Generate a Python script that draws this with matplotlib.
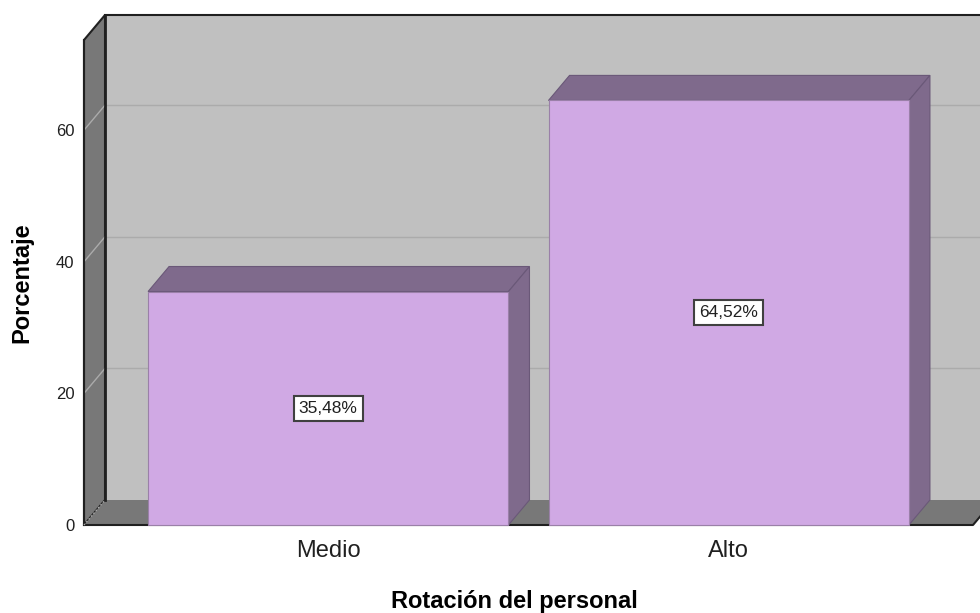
import matplotlib.pyplot as plt
from matplotlib.patches import Polygon

# Data
categories = ["Medio", "Alto"]
percentages = [35.48, 64.52]
value_labels = ["35,48%", "64,52%"]
y_ticks = [0, 20, 40, 60]

plt.rcParams['font.family'] = ['Liberation Sans', 'DejaVu Sans']

# colours
front_col = '#D0A9E4'
shade_col = '#7F6A8C'
wall_col = '#C0C0C0'
dark_wall = '#787878'
grid_col = '#ABABAB'

fig = plt.figure(figsize=(9.8, 6.13), dpi=100)
ax = fig.add_axes([84 / 980, 88 / 613, 889 / 980, 485 / 613])

xmin, xmax = -0.61, 1.61
ymin, ymax = 0, 73.7
ax.set_xlim(xmin, xmax)
ax.set_ylim(ymin, ymax)

# depth of the 3D effect, in data units
dx = 21 / 889 * (xmax - xmin)
dy = 25 / 485 * (ymax - ymin)

def poly(pts, fc, ec='none', lw=0, z=1):
    p = Polygon(pts, closed=True, facecolor=fc, edgecolor=ec,
                linewidth=lw, clip_on=False, zorder=z, joinstyle='miter')
    ax.add_patch(p)

# back wall
poly([(xmin + dx, dy), (xmin + dx, ymax + dy), (xmax + dx + 1, ymax + dy),
      (xmax + dx + 1, dy)], wall_col, z=1)
ax.plot([xmin + dx, xmax + dx + 1], [ymax + dy, ymax + dy], color='#202020',
        lw=1.5, clip_on=False, zorder=1.5)

# gridlines on back wall and left wall
for t in y_ticks[1:]:
    ax.plot([xmin + dx, xmax + dx + 1], [t + dy, t + dy], color=grid_col,
            lw=1, clip_on=False, zorder=2)

# left wall
poly([(xmin, 0), (xmin, ymax), (xmin + dx, ymax + dy), (xmin + dx, dy)],
     dark_wall, '#202020', 1.5, z=3)
for t in y_ticks[1:]:
    ax.plot([xmin, xmin + dx], [t, t + dy], color=grid_col, lw=1,
            clip_on=False, zorder=3.5)

# floor
poly([(xmin, 0), (xmin + dx, dy), (xmax + dx, dy), (xmax, 0)],
     dark_wall, z=3)
ax.plot([xmin, xmax, xmax + dx], [0, 0, dy], color='#202020', lw=1.5,
        clip_on=False, zorder=3.6)
ax.plot([xmin + dx, xmin + dx], [dy, ymax + dy], color='#202020', lw=2,
        clip_on=False, zorder=3.7)
ax.plot([xmin, xmin], [0, ymax], color='#202020', lw=1.5,
        clip_on=False, zorder=3.7)
ax.plot([xmin, xmin + dx], [0, dy], color=grid_col, lw=1, ls=':',
        clip_on=False, zorder=3.8)

# bars
width = 0.9
for i, (v, lab) in enumerate(zip(percentages, value_labels)):
    x0, x1 = i - width / 2, i + width / 2
    # top face
    poly([(x0, v), (x0 + dx, v + dy), (x1 + dx, v + dy), (x1, v)],
         shade_col, '#6A5878', 0.8, z=5)
    # side face
    poly([(x1, 0), (x1, v), (x1 + dx, v + dy), (x1 + dx, dy)],
         shade_col, '#6A5878', 0.8, z=5)
    # front face
    poly([(x0, 0), (x0, v), (x1, v), (x1, 0)],
         front_col, '#9A80A8', 0.8, z=6)
    ax.text(i, v / 2, lab, ha='center', va='center', fontsize=12.5,
            color='#202020', zorder=7,
            bbox=dict(boxstyle='square,pad=0.3', facecolor='white',
                      edgecolor='#404040', linewidth=1.5))

# axes styling
for s in ax.spines.values():
    s.set_visible(False)
ax.set_facecolor('none')
ax.set_yticks(y_ticks)
ax.set_yticklabels([str(t) for t in y_ticks])
ax.set_xticks(range(len(categories)))
ax.set_xticklabels(categories)
ax.tick_params(axis='y', length=0, pad=7, labelsize=12, colors='#202020')
ax.tick_params(axis='x', length=0, pad=11, labelsize=17, colors='#202020')

fig.text(514 / 980, 5 / 613, "Rotación del personal", ha='center',
         va='baseline', fontsize=17, fontweight='bold', color='black')
fig.text(22 / 980, 1 - 282.5 / 613, "Porcentaje", ha='center', va='center',
         rotation=90, fontsize=17, fontweight='bold', color='black')

fig.savefig('out.png', dpi=100)
